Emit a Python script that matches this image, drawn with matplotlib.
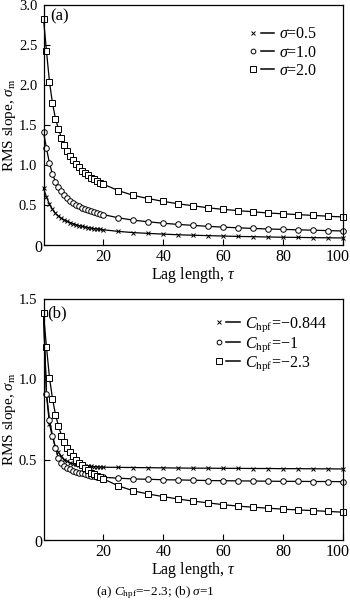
import matplotlib
matplotlib.use("Agg")
import matplotlib.pyplot as plt
import matplotlib.transforms as mtransforms
from matplotlib.lines import Line2D
from matplotlib.legend_handler import HandlerLine2D

plt.rcParams['font.family'] = ['Liberation Serif', 'DejaVu Serif']
plt.rcParams['mathtext.fontset'] = 'custom'
plt.rcParams['mathtext.rm'] = 'Liberation Serif'
plt.rcParams['mathtext.it'] = 'Liberation Serif:italic'
plt.rcParams['font.size'] = 11

# ---------------- data ----------------
tau = list(range(0, 21)) + list(range(25, 101, 5))

# panel (a): C_hpf = -2.3
sigma_05 = [0.71, 0.60, 0.51, 0.445, 0.395, 0.36, 0.335, 0.31, 0.295, 0.28, 0.265,
            0.252, 0.242, 0.232, 0.225, 0.218, 0.21, 0.205, 0.20, 0.195, 0.19,
            0.17, 0.155, 0.145, 0.136, 0.128, 0.122, 0.117, 0.112, 0.107, 0.104,
            0.10, 0.097, 0.095, 0.092, 0.09, 0.088]
sigma_10 = [1.41, 1.21, 1.02, 0.885, 0.79, 0.725, 0.67, 0.625, 0.59, 0.555, 0.53,
            0.505, 0.485, 0.465, 0.45, 0.435, 0.42, 0.41, 0.40, 0.39, 0.38,
            0.34, 0.31, 0.29, 0.272, 0.257, 0.245, 0.233, 0.223, 0.215, 0.207,
            0.20, 0.195, 0.19, 0.185, 0.18, 0.175]
sigma_20 = [2.83, 2.42, 2.04, 1.77, 1.58, 1.45, 1.34, 1.25, 1.18, 1.11, 1.06,
            1.01, 0.97, 0.93, 0.90, 0.87, 0.84, 0.82, 0.80, 0.78, 0.76,
            0.68, 0.62, 0.58, 0.545, 0.515, 0.49, 0.465, 0.445, 0.43, 0.415,
            0.40, 0.39, 0.38, 0.37, 0.36, 0.35]

# panel (b): sigma = 1
chpf_0844 = [1.41, 0.90, 0.72, 0.64, 0.58, 0.545, 0.52, 0.50, 0.49, 0.48, 0.475,
             0.47, 0.468, 0.465, 0.462, 0.46, 0.458, 0.456, 0.455, 0.454, 0.453,
             0.452, 0.451, 0.45, 0.449, 0.448, 0.447, 0.447, 0.446, 0.446, 0.445,
             0.445, 0.444, 0.444, 0.443, 0.443, 0.442]
chpf_1 = [1.41, 0.91, 0.75, 0.65, 0.57, 0.51, 0.48, 0.46, 0.45, 0.44, 0.43,
          0.425, 0.42, 0.415, 0.41, 0.405, 0.40, 0.398, 0.395, 0.392, 0.39,
          0.385, 0.38, 0.378, 0.375, 0.374, 0.372, 0.37, 0.369, 0.368, 0.367,
          0.366, 0.365, 0.365, 0.364, 0.364, 0.363]
chpf_23 = [1.41, 1.20, 1.01, 0.88, 0.78, 0.71, 0.65, 0.61, 0.575, 0.545, 0.52,
           0.50, 0.48, 0.465, 0.45, 0.435, 0.42, 0.41, 0.40, 0.39, 0.38,
           0.337, 0.306, 0.286, 0.27, 0.255, 0.242, 0.231, 0.22, 0.211, 0.204,
           0.198, 0.192, 0.187, 0.183, 0.178, 0.173]

labels_a = [r'$\sigma$=0.5', r'$\sigma$=1.0', r'$\sigma$=2.0']
labels_b = [r'$C_{\rm hpf}$=−0.844', r'$C_{\rm hpf}$=−1', r'$C_{\rm hpf}$=−2.3']
markers = ['x', 'o', 's']
msizes = [3.2, 4.0, 5.0]

xticks = [20, 40, 60, 80, 100]
yticks_a = [0, 0.5, 1.0, 1.5, 2.0, 2.5, 3.0]
yticks_b = [0, 0.5, 1.0, 1.5]


class MarkerLeftHandler(HandlerLine2D):
    def create_artists(self, legend, orig_handle, xdescent, ydescent,
                       width, height, fontsize, trans):
        yc = height / 2.0 - ydescent
        mk = Line2D([-xdescent + 0.12 * width], [yc],
                    marker=orig_handle.get_marker(),
                    markersize=orig_handle.get_markersize() * 0.85,
                    markerfacecolor='white', markeredgecolor='black',
                    markeredgewidth=0.7, linestyle='none')
        ln = Line2D([-xdescent + 0.42 * width, -xdescent + width], [yc, yc],
                    color='black', lw=1.1)
        mk.set_transform(trans)
        ln.set_transform(trans)
        return [mk, ln]


fig = plt.figure(figsize=(3.5, 6.03), dpi=100)
L, R = 43.5 / 350, 343 / 350
ax_a = fig.add_axes([L, 1 - 245 / 603, R - L, (245 - 5) / 603])
ax_b = fig.add_axes([L, 1 - 540 / 603, R - L, (540 - 299) / 603])


def style(ax, ymax, yticks):
    ax.set_xlim(0, 100)
    ax.set_ylim(0, ymax)
    ax.set_xticks(xticks)
    ax.set_xticklabels([str(t) for t in xticks])
    ax.set_yticks(yticks)
    ax.set_yticklabels(['' if v == 0 else f'{v:.1f}' for v in yticks])
    ax.tick_params(direction='in', length=4, width=0.8, top=False, right=False)
    ax.tick_params(axis='y', pad=4.5, labelsize=10.5)
    ax.tick_params(axis='x', pad=3, labelsize=11.5)
    for s in ax.spines.values():
        s.set_linewidth(0.9)
    # nudge the last x tick label so it stays inside the figure
    last = ax.get_xticklabels()[-1]
    last.set_transform(last.get_transform() +
                       mtransforms.ScaledTranslation(-5 / 100, 0, fig.dpi_scale_trans))
    ax.text(-0.005, -0.013, '0', transform=ax.transAxes, ha='right', va='center',
            fontsize=11.5)
    ax.set_xlabel(r'Lag length, $\tau$', fontsize=11.5, va='center')
    ax.xaxis.set_label_coords(0.5, -0.125)
    ax.set_ylabel(r'RMS slope, $\sigma_{\rm m}$', fontsize=11, va='center')
    ax.yaxis.set_label_coords(-0.115, 0.5)


def plot_series(ax, series, labels):
    handles = []
    for ys, lab, mk, ms in zip(series, labels, markers, msizes):
        h, = ax.plot(tau, ys, color='black', lw=0.9, marker=mk, markersize=ms,
                     markerfacecolor='white', markeredgecolor='black',
                     markeredgewidth=0.7, label=lab, clip_on=False)
        handles.append(h)
    return handles


ha = plot_series(ax_a, [sigma_05, sigma_10, sigma_20], labels_a)
style(ax_a, 3.0, yticks_a)
ax_a.legend(handles=ha, loc='upper right', bbox_to_anchor=(0.915, 0.912),
            frameon=False, borderaxespad=0, borderpad=0, handlelength=1.5,
            handletextpad=0.3, labelspacing=0.15, fontsize=11.5,
            handler_map={Line2D: MarkerLeftHandler()})
ax_a.text(0.022, 0.954, '(a)', transform=ax_a.transAxes, ha='left', va='center',
          fontsize=12)

hb = plot_series(ax_b, [chpf_0844, chpf_1, chpf_23], labels_b)
style(ax_b, 1.5, yticks_b)
ax_b.legend(handles=hb, loc='upper right', bbox_to_anchor=(0.945, 0.93),
            frameon=False, borderaxespad=0, borderpad=0, handlelength=1.5,
            handletextpad=0.3, labelspacing=0.05, fontsize=11.5,
            handler_map={Line2D: MarkerLeftHandler()})
ax_b.text(0.012, 0.942, '(b)', transform=ax_b.transAxes, ha='left', va='center',
          fontsize=12)

fig.text(155 / 350, 1 - 593 / 603, r'(a) $C_{\rm hpf}$=−2.3; (b) $\sigma$=1',
         ha='center', va='center', fontsize=9.5)

fig.savefig('out.png', dpi=100)
